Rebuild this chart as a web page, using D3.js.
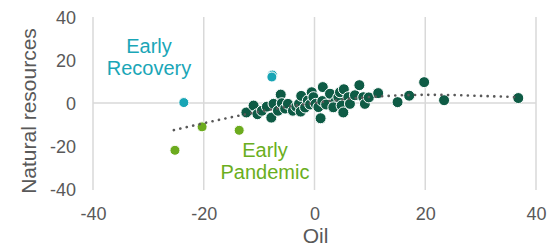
<!DOCTYPE html>
<html>
<head>
<meta charset="utf-8">
<script src="https://cdn.jsdelivr.net/npm/d3@7"></script>
<style>
  body { margin: 0; background: #fff; }
  svg { display: block; font-family: "Liberation Sans", Arial, sans-serif; }
</style>
</head>
<body>
<div id="chart"></div>
<script>
// Chart values
const xTicks = [-40, -20, 0, 20, 40];
const yTicks = [-40, -20, 0, 20, 40];

// main cloud (dark green)
const mainX = [-12.3, -11.0, -10.3, -9.5, -8.6, -7.8, -7.4, -6.6, -6.1, -5.9, -5.3, -4.8, -3.9, -3.3,
  -2.8, -2.4, -2.5, -1.7, -1.2, -0.8, -0.5, -0.2, 0.2, 0.7, 1.1, 1.5, 1.4, 2.1, 2.8, 3.7, 3.4,
  4.3, 4.6, 4.9, 5.3, 5.2, 6.1, 6.4, 7.3, 8.1, 8.8, 9.1, 9.8, 11.5, 15.0, 17.1, 19.8, 23.4, 36.8];
const mainY = [-4.4, -1.2, -5.2, -3.6, -1.7, -6.8, -0.4, -3.6, 3.9, -0.1, -2.6, -0.4, -3.6, -1.7,
  -0.4, 3.3, -4.0, -2.1, 1.2, -0.7, 5.0, 2.7, -0.4, -1.9, -7.1, 7.4, 0.9, -0.7, 4.3, 0.4, -2.0,
  2.7, 5.0, -1.2, 6.4, -4.4, 2.7, -0.4, 3.6, 8.3, 2.7, -0.4, 2.6, 4.6, 0.4, 3.4, 9.7, 1.3, 2.3];

// early recovery (teal)
const recoveryX = [-7.6, -23.6, -7.7];
const recoveryY = [13.0, 0.2, 12.1];

// early pandemic (green)
const pandemicX = [-25.2, -20.3, -13.6];
const pandemicY = [-22.0, -11.1, -12.7];

// trend line
const trendX = [-25.4, -20, -15, -10, -5, 0, 5, 10, 15, 20, 25, 30, 37];
const trendY = [-12.6, -9.4, -6.6, -4.0, -1.8, 0, 1.6, 2.8, 3.5, 3.8, 3.7, 3.3, 2.7];

const width = 548, height = 245;
const grey = '#595959';
const gridColor = '#d9d9d9';
const darkGreen = '#0e5b45', teal = '#18a5b5', green = '#6cab1e';

const svg = d3.select('#chart')
  .append('svg')
  .attr('width', width)
  .attr('height', height);

const x = d3.scaleLinear().domain([-40, 40]).range([93, 536]);
const y = d3.scaleLinear().domain([-40, 40]).range([189, 17]);

// gridlines
svg.append('g')
  .selectAll('line')
  .data(xTicks)
  .join('line')
  .attr('x1', d => x(d)).attr('x2', d => x(d))
  .attr('y1', y(40)).attr('y2', y(-40) + 1)
  .attr('stroke', gridColor)
  .attr('stroke-width', 1.5);

svg.append('line')
  .attr('x1', x(-40)).attr('x2', x(40))
  .attr('y1', y(0)).attr('y2', y(0))
  .attr('stroke', gridColor)
  .attr('stroke-width', 1.5);

// axes (labels only), plain hyphen for negatives like the original
const fmt = d => String(d);
const xAxis = svg.append('g')
  .attr('transform', `translate(0,${y(-40)})`)
  .call(d3.axisBottom(x).tickValues(xTicks).tickFormat(fmt).tickSize(0).tickPadding(18));
const yAxis = svg.append('g')
  .attr('transform', `translate(${x(-40)},0)`)
  .call(d3.axisLeft(y).tickValues(yTicks).tickFormat(fmt).tickSize(0).tickPadding(17));

[xAxis, yAxis].forEach(a => {
  a.select('.domain').remove();
  a.selectAll('text')
    .attr('fill', grey)
    .style('font-size', '18px')
    .style('font-family', '"Liberation Sans", Arial, sans-serif');
});
yAxis.selectAll('text').attr('dy', '0.38em');

// axis titles
svg.append('text')
  .attr('x', x(0) + 1)
  .attr('y', 243)
  .attr('text-anchor', 'middle')
  .attr('fill', grey)
  .style('font-size', '21px')
  .text('Oil');

svg.append('text')
  .attr('transform', `translate(36,111) rotate(-90)`)
  .attr('text-anchor', 'middle')
  .attr('fill', grey)
  .style('font-size', '21px')
  .text('Natural resources');

// points
const drawPoints = (xs, ys, color, r) => {
  svg.append('g')
    .selectAll('circle')
    .data(xs.map((d, i) => [d, ys[i]]))
    .join('circle')
    .attr('cx', d => x(d[0]))
    .attr('cy', d => y(d[1]))
    .attr('r', r)
    .attr('fill', color)
    .attr('stroke', '#fff')
    .attr('stroke-width', 1);
};

drawPoints(mainX, mainY, darkGreen, 5.5);
drawPoints(recoveryX, recoveryY, teal, 5);
drawPoints(pandemicX, pandemicY, green, 5);

// trend line (dotted)
const line = d3.line()
  .x(d => x(d[0]))
  .y(d => y(d[1]))
  .curve(d3.curveMonotoneX);

svg.append('path')
  .datum(trendX.map((d, i) => [d, trendY[i]]))
  .attr('d', line)
  .attr('fill', 'none')
  .attr('stroke', grey)
  .attr('stroke-width', 2.6)
  .attr('stroke-linecap', 'round')
  .attr('stroke-dasharray', '0.1 6.5');

// annotations
const note = (lines, cx, y0, color) => {
  svg.append('g')
    .selectAll('text')
    .data(lines)
    .join('text')
    .attr('x', cx)
    .attr('y', (d, i) => y0 + i * 22)
    .attr('text-anchor', 'middle')
    .attr('fill', color)
    .style('font-size', '20px')
    .text(d => d);
};

note(['Early', 'Recovery'], 149, 53, '#1aa6b7');
note(['Early', 'Pandemic'], 265, 157, '#6aae20');
</script>
</body>
</html>
